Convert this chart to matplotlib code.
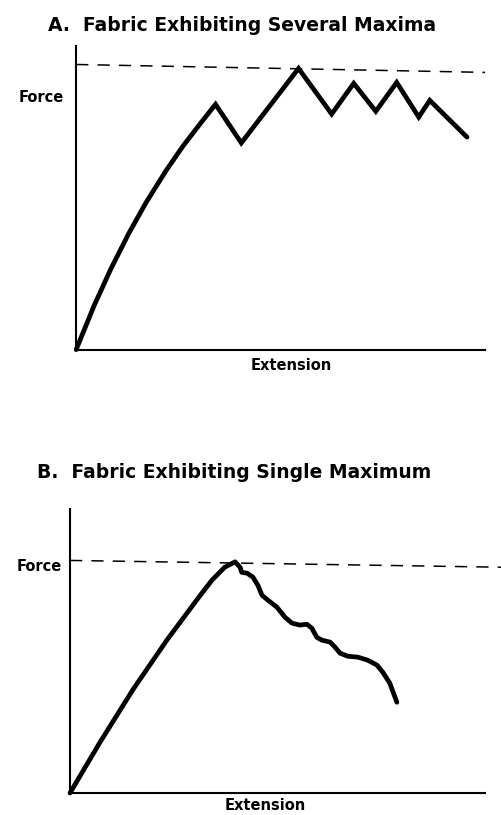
"""
Force-extension curves: fabric with several maxima vs single maximum
"""
import matplotlib
matplotlib.use('Agg')
import matplotlib.pyplot as plt

plt.rcParams['font.family'] = ['DejaVu Sans']

# Panel A - several maxima (extension %, force % of axis)
ext_a = [0, 4.4, 8.5, 12.9, 17.1, 22.0, 26.1, 30.5, 34.1,
         40.4, 54.4, 62.5, 67.9, 73.3, 78.4, 83.8, 86.5, 95.6]
force_a = [0, 14.5, 26.6, 38.3, 48.4, 58.9, 66.9, 74.6, 80.7,
           68.0, 92.5, 77.5, 87.6, 78.4, 87.9, 76.5, 82.0, 69.9]
# maximum-force reference line (left end, right end) - slightly skewed in the scan
max_a_ext = [0, 100]
max_a_force = [93.8, 91.2]

# Panel B - single maximum
ext_b = [0, 7.2, 15.2, 23.4, 31.3, 34.2, 37.3, 39.8, 41.0, 41.4, 42.7, 44.1,
         45.3, 46.3, 47.7, 49.9, 51.8, 53.5, 55.4, 57.1, 58.3, 59.5, 60.7,
         62.7, 63.9, 65.1, 67.0, 69.4, 71.8, 74.0, 75.4, 77.1, 78.8]
force_b = [0, 17.8, 36.5, 54.0, 69.5, 75.0, 79.6, 81.5, 79.6, 77.8, 77.5, 76.1,
           73.2, 69.7, 68.0, 65.5, 62.0, 59.9, 59.2, 59.5, 58.1, 54.9, 53.9,
           53.2, 51.4, 49.3, 48.2, 47.9, 46.8, 45.1, 42.6, 38.7, 32.0]
max_b_ext = [0, 104]
max_b_force = [82.0, 79.6]

fig = plt.figure(figsize=(5.01, 8.15), dpi=100)

ax1 = fig.add_axes([0.152, 0.571, 0.816, 0.373])
ax2 = fig.add_axes([0.1397, 0.027, 0.828, 0.348])


def style(ax):
    ax.set_xlim(0, 100)
    ax.set_ylim(0, 100)
    for s in ['top', 'right']:
        ax.spines[s].set_visible(False)
    for s in ['left', 'bottom']:
        ax.spines[s].set_linewidth(1.5)
        ax.spines[s].set_color('black')
    ax.set_xticks([])
    ax.set_yticks([])


style(ax1)
ax1.plot(ext_a, force_a, color='black', lw=3.4, solid_joinstyle='miter',
         solid_capstyle='round', clip_on=False)
ax1.plot(max_a_ext, max_a_force, color='black', lw=1.1, dashes=(8, 6), clip_on=False)
ax1.text(-3.0, 83, 'Force', ha='right', va='center', fontsize=10.5, fontweight='bold')

style(ax2)
ax2.plot(ext_b, force_b, color='black', lw=3.4, solid_joinstyle='round',
         solid_capstyle='round', clip_on=False)
ax2.plot(max_b_ext, max_b_force, color='black', lw=1.1, dashes=(8, 6), clip_on=False)
ax2.text(-1.9, 80, 'Force', ha='right', va='center', fontsize=10.5, fontweight='bold')

fig.text(0.096, 0.969, 'A.  Fabric Exhibiting Several Maxima', ha='left', va='center',
         fontsize=13.5, fontweight='bold')
fig.text(0.581, 0.552, 'Extension', ha='center', va='center', fontsize=10.5, fontweight='bold')
fig.text(0.074, 0.420, 'B.  Fabric Exhibiting Single Maximum', ha='left', va='center',
         fontsize=13.5, fontweight='bold')
fig.text(0.529, 0.002, 'Extension', ha='center', va='bottom', fontsize=10.5, fontweight='bold')

fig.savefig('out.png', dpi=100)
plt.close('all')
